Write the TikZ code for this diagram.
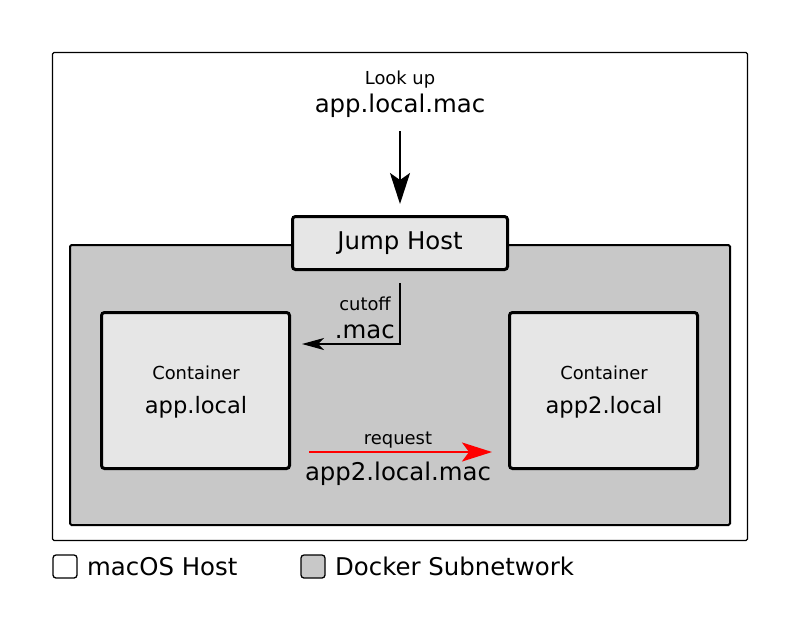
\documentclass[tikz,border=0pt]{standalone}
\usepackage{fontspec}
\setmainfont{DejaVu Sans}
\usetikzlibrary{arrows.meta}
\definecolor{dockergray}{HTML}{C8C8C8}
\definecolor{boxgray}{HTML}{E6E6E6}
\begin{document}
\begin{tikzpicture}[x=1pt,y=-1pt,
  big/.style={font=\fontsize{24.4}{28}\selectfont, inner sep=0pt},
  mid/.style={font=\fontsize{22.6}{26}\selectfont, inner sep=0pt},
  small/.style={font=\fontsize{17.9}{21}\selectfont, inner sep=0pt},
  hostbox/.style={draw, line width=1.3pt, rounded corners=1.5pt, fill=white},
  netbox/.style={draw, line width=2pt, rounded corners=1.5pt, fill=dockergray},
  ctbox/.style={draw, line width=3pt, rounded corners=3pt, fill=boxgray, inner sep=0pt, anchor=north west},
  bigarrow/.style={line width=2pt, -{Stealth[length=31pt, width=20pt, inset=7pt]}},
]
\useasboundingbox (0,0) rectangle (800,630);
% outer host
\draw[hostbox] (52.5,52.5) rectangle (747.5,540.5);
% docker subnetwork
\draw[netbox] (70,245) rectangle (730,525);
% jump host
\node[ctbox, minimum width=215pt, minimum height=53pt] (jump) at (291,215) {};
\node[big] at (jump.center) {Jump Host};
% lookup text
\node[small, anchor=base] (lookup) at (400,84) {Look up};
\node[big, anchor=base] (lookupname) at (400,112) {app.local.mac};
\coordinate (lstart) at (400,131);
\coordinate (lend) at (400,204);
\draw[bigarrow] (lstart) -- (lend);
% containers
\node[ctbox, minimum width=188pt, minimum height=156pt] (c1) at (100,311) {};
\node[small, anchor=base] (c1a) at (196,379) {Container};
\node[mid, anchor=base] (c1b) at (196,413) {app.local};
\node[ctbox, minimum width=188pt, minimum height=156pt] (c2) at (508,311) {};
\node[small, anchor=base] (c2a) at (604,379) {Container};
\node[mid, anchor=base] (c2b) at (604,413) {app2.local};
% cutoff arrow
\coordinate (cstart) at (400,283);
\coordinate (ccorner) at (400,344);
\coordinate (cend) at (302,344);
\draw[line width=1.2pt, -{Stealth[length=22pt, width=12pt, inset=6pt]}] (cstart) -- (ccorner) -- (cend);
\node[small, anchor=base east] (cut) at (391,310) {cutoff};
\node[big, anchor=base east] (mac) at (395,338) {.mac};
% request arrow
\coordinate (rstart) at (309,452);
\coordinate (rend) at (492,452);
\draw[red, line width=2pt, -{Stealth[length=30pt, width=19pt, inset=7pt]}] (rstart) -- (rend);
\node[small, anchor=base] (req) at (398,444) {request};
\node[big, anchor=base] (reqname) at (398,480) {app2.local.mac};
% legend
\draw[line width=1.3pt, rounded corners=3pt, fill=white] (53,555) rectangle (77,578);
\node[big, anchor=base west] (l1) at (87,575) {macOS Host};
\draw[line width=1.3pt, rounded corners=3pt, fill=dockergray] (301,555) rectangle (325,578);
\node[big, anchor=base west] (l2) at (335,575) {Docker Subnetwork};
\end{tikzpicture}
\end{document}
